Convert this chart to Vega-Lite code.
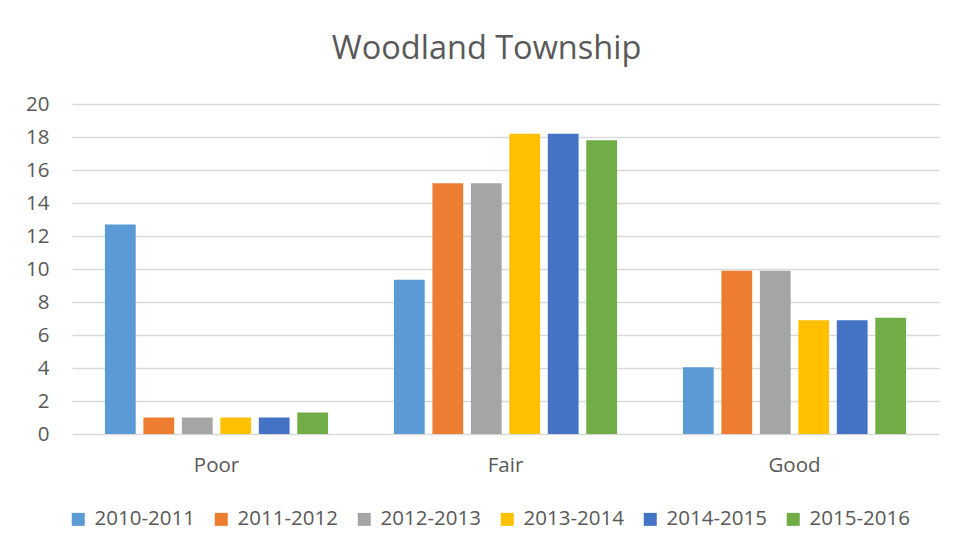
{
  "$schema": "https://vega.github.io/schema/vega-lite/v6.json",
  "autosize": {"type": "none"},
  "padding": {"left": 72, "top": 104, "right": 18, "bottom": 125},
  "width": 867,
  "height": 330,
  "background": "white",
  "title": {
    "text": "Woodland Township",
    "anchor": "middle",
    "dx": -19,
    "offset": 29,
    "font": "Open Sans",
    "fontSize": 32.5,
    "fontWeight": "normal",
    "color": "#595959"
  },
  "data": {
    "values": [
      {"rating": "Poor", "season": "2010-2011", "value": 12.7},
      {"rating": "Poor", "season": "2011-2012", "value": 1.0},
      {"rating": "Poor", "season": "2012-2013", "value": 1.0},
      {"rating": "Poor", "season": "2013-2014", "value": 1.0},
      {"rating": "Poor", "season": "2014-2015", "value": 1.0},
      {"rating": "Poor", "season": "2015-2016", "value": 1.3},
      {"rating": "Fair", "season": "2010-2011", "value": 9.35},
      {"rating": "Fair", "season": "2011-2012", "value": 15.2},
      {"rating": "Fair", "season": "2012-2013", "value": 15.2},
      {"rating": "Fair", "season": "2013-2014", "value": 18.2},
      {"rating": "Fair", "season": "2014-2015", "value": 18.2},
      {"rating": "Fair", "season": "2015-2016", "value": 17.8},
      {"rating": "Good", "season": "2010-2011", "value": 4.05},
      {"rating": "Good", "season": "2011-2012", "value": 9.9},
      {"rating": "Good", "season": "2012-2013", "value": 9.9},
      {"rating": "Good", "season": "2013-2014", "value": 6.9},
      {"rating": "Good", "season": "2014-2015", "value": 6.9},
      {"rating": "Good", "season": "2015-2016", "value": 7.05}
    ]
  },
  "mark": {"type": "bar"},
  "encoding": {
    "x": {
      "field": "rating",
      "type": "nominal",
      "sort": ["Poor", "Fair", "Good"],
      "scale": {"paddingInner": 0.228, "paddingOuter": 0.114},
      "axis": {
        "title": null,
        "labelAngle": 0,
        "labelFont": "Open Sans",
        "labelFontSize": 20.5,
        "labelColor": "#595959",
        "labelPadding": 21,
        "ticks": false,
        "domain": false
      }
    },
    "xOffset": {
      "field": "season",
      "type": "nominal",
      "scale": {"paddingInner": 0.2, "paddingOuter": 0}
    },
    "y": {
      "field": "value",
      "type": "quantitative",
      "scale": {"domain": [0, 20], "nice": false},
      "axis": {
        "title": null,
        "values": [0, 2, 4, 6, 8, 10, 12, 14, 16, 18, 20],
        "labelFont": "Open Sans",
        "labelFontSize": 20.5,
        "labelColor": "#595959",
        "labelPadding": 23,
        "ticks": false,
        "domain": false,
        "grid": true,
        "gridColor": "#D9D9D9",
        "gridWidth": 1.5
      }
    },
    "color": {
      "field": "season",
      "type": "nominal",
      "scale": {
        "domain": ["2010-2011", "2011-2012", "2012-2013", "2013-2014", "2014-2015", "2015-2016"],
        "range": ["#5B9BD5", "#ED7D31", "#A5A5A5", "#FFC000", "#4472C4", "#70AD47"]
      },
      "legend": {
        "title": null,
        "orient": "none",
        "direction": "horizontal",
        "legendX": -4,
        "legendY": 405,
        "symbolType": "square",
        "symbolSize": 169,
        "symbolStrokeWidth": 0,
        "labelFont": "Open Sans",
        "labelFontSize": 20.5,
        "labelColor": "#595959",
        "labelOffset": 6,
        "columnPadding": 16
      }
    }
  },
  "config": {
    "view": {"stroke": null},
    "axisX": {"grid": false}
  }
}
